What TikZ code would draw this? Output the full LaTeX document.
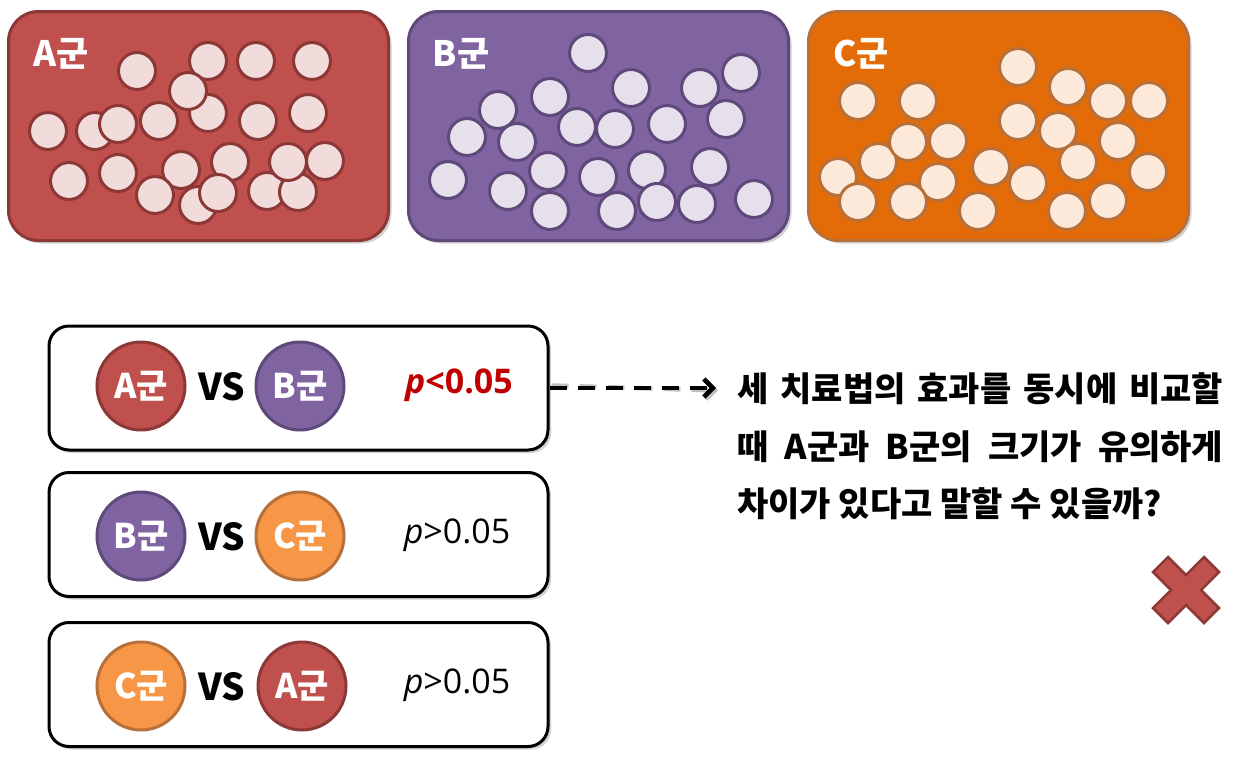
\documentclass[tikz,border=0pt]{standalone}
\usepackage{fontspec}
\setmainfont{Noto Sans CJK KR}
\newfontfamily\latf{Open Sans}
\usetikzlibrary{shadows,arrows.meta}
\definecolor{rfill}{HTML}{C0504D}
\definecolor{rline}{HTML}{8C3836}
\definecolor{rlight}{HTML}{F2DCDB}
\definecolor{pfill}{HTML}{8064A2}
\definecolor{pline}{HTML}{5F497A}
\definecolor{plight}{HTML}{E5E0EC}
\definecolor{ofill}{HTML}{E36C09}
\definecolor{oline}{HTML}{B7703A}
\definecolor{olight}{HTML}{FDE9D9}
\definecolor{obright}{HTML}{F79646}
\definecolor{pred}{HTML}{C00000}
\tikzset{
  panel/.style={draw, line width=3pt, rounded corners=30pt, minimum width=380pt, minimum height=229pt,
    drop shadow={opacity=0.35, shadow xshift=3pt, shadow yshift=-3pt}},
  plabel/.style={text=white, font=\bfseries\fontsize{35}{35}\selectfont, inner sep=0pt},
  acirc/.style={fill=rlight, draw=rline, line width=3pt},
  bcirc/.style={fill=plight, draw=pline, line width=3pt},
  ccirc/.style={fill=olight, draw=oline, line width=3pt},
  cmpbox/.style={draw=black, fill=white, line width=3pt, rounded corners=20pt, minimum width=499pt, minimum height=124pt,
    drop shadow={opacity=0.35, shadow xshift=3pt, shadow yshift=-3pt}},
  grp/.style={circle, line width=3pt, minimum size=88pt, inner sep=0pt, text=white, font=\bfseries\fontsize{34}{34}\selectfont},
  vstext/.style={font=\bfseries\fontsize{37}{37}\selectfont, inner sep=0pt},
  pval/.style={inner sep=0pt},
  qline/.style={anchor=west, inner sep=0pt, font=\bfseries\fontsize{34}{34}\selectfont},
  dashline/.style={line width=4.5pt, dash pattern=on 17pt off 11pt, -{Straight Barb[length=9pt,width=18pt]}},
}
\begin{document}
\begin{tikzpicture}[x=1pt,y=-1pt]
\useasboundingbox (0,0) rectangle (1248,763);
\fill[white] (0,0) rectangle (1248,763);

% panels
\node[panel, fill=rfill, draw=rline] (pA) at (198.5,126) {};
\node[panel, fill=pfill, draw=pline] (pB) at (598.5,126) {};
\node[panel, fill=ofill, draw=oline] (pC) at (998.5,126) {};
\node[plabel] (lA) at (61,54) {A군};
\node[plabel] (lB) at (461,54) {B군};
\node[plabel] (lC) at (861,54) {C군};

% A circles
\foreach \x/\y in {137/71, 208/61, 256/61, 312/61, 208/113, 48/131, 95/131, 118/124, 159/121, 258/121, 308/113, 188/91,
  69/181, 118/173, 181/170, 230/162, 155/195, 198/205, 218/193, 325/161, 267/191, 298/192, 288/162}
  \draw[acirc] (\x,\y) circle[radius=18.5];
% B circles
\foreach \x/\y in {588/53, 631/88, 700/88, 741/73, 550/97, 498/110, 467/137, 517/142, 577/127, 615/129, 667/124, 726/119,
  448/180, 508/191, 548/171, 598/177, 647/170, 710/167, 550/211, 617/211, 657/202, 697/204, 754/199}
  \draw[bcirc] (\x,\y) circle[radius=18.5];
% C circles
\foreach \x/\y in {1018/67, 1068/87, 1108/101, 1149/101, 858/101, 918/101, 1018/121, 1058/131, 1118/141,
  838/177, 878/162, 908/142, 948/141, 858/202, 938/182, 908/202, 991/167, 1028/183, 1078/162, 1148/172,
  978/211, 1067/211, 1108/201}
  \draw[ccirc] (\x,\y) circle[radius=18.5];

% comparison boxes
\node[cmpbox] (b1) at (298.5,388) {};
\node[cmpbox] (b2) at (298.5,534.5) {};
\node[cmpbox] (b3) at (298.5,684.5) {};

\node[grp, fill=rfill, draw=rline] (b1l) at (141,386) {A군};
\node[vstext] (b1v) at (222,387) {VS};
\node[grp, fill=pfill, draw=pline] (b1r) at (300,386) {B군};
\node[pval, text=pred, font=\latf\bfseries\fontsize{34}{34}\selectfont] (b1p) at (459,385) {\itshape p\upshape<0.05};

\node[grp, fill=pfill, draw=pline] (b2l) at (141,536) {B군};
\node[vstext] (b2v) at (222,537) {VS};
\node[grp, fill=obright, draw=oline] (b2r) at (300,536) {C군};
\node[pval, font=\latf\fontsize{34}{34}\selectfont] (b2p) at (457,535) {\itshape p\upshape>0.05};

\node[grp, fill=obright, draw=oline] (b3l) at (141,686) {C군};
\node[vstext] (b3v) at (222,687) {VS};
\node[grp, fill=rfill, draw=rline] (b3r) at (302,686) {A군};
\node[pval, font=\latf\fontsize{34}{34}\selectfont] (b3p) at (457,685) {\itshape p\upshape>0.05};

% arrow
\coordinate (aend) at (716,388);
\coordinate (aendsh) at (718,390.5);
\draw[dashline, black!25] ([shift={(2pt,2.5pt)}]b1.east |- aend) -- (aendsh);
\draw[dashline] (b1.east |- aend) -- (aend);

% question text
\node[qline] (q1) at (737,389) {\makebox[486pt][s]{세 치료법의 효과를 동시에 비교할}};
\node[qline] (q2) at (737,447) {\makebox[486pt][s]{때 A군과 B군의 크기가 유의하게}};
\node[qline] (q3) at (737,504) {차이가 있다고 말할 수 있을까?};

% cross mark
\def\xs{33}\def\xt{15}
\draw[fill=rfill, draw=rline, line width=2.5pt, line join=miter, shift={(1186,590)}]
  (-\xs,-\xs+\xt) -- (-\xs+\xt,-\xs) -- (0,-\xt) -- (\xs-\xt,-\xs) -- (\xs,-\xs+\xt) -- (\xt,0)
  -- (\xs,\xs-\xt) -- (\xs-\xt,\xs) -- (0,\xt) -- (-\xs+\xt,\xs) -- (-\xs,\xs-\xt) -- (-\xt,0) -- cycle;
\end{tikzpicture}
\end{document}
